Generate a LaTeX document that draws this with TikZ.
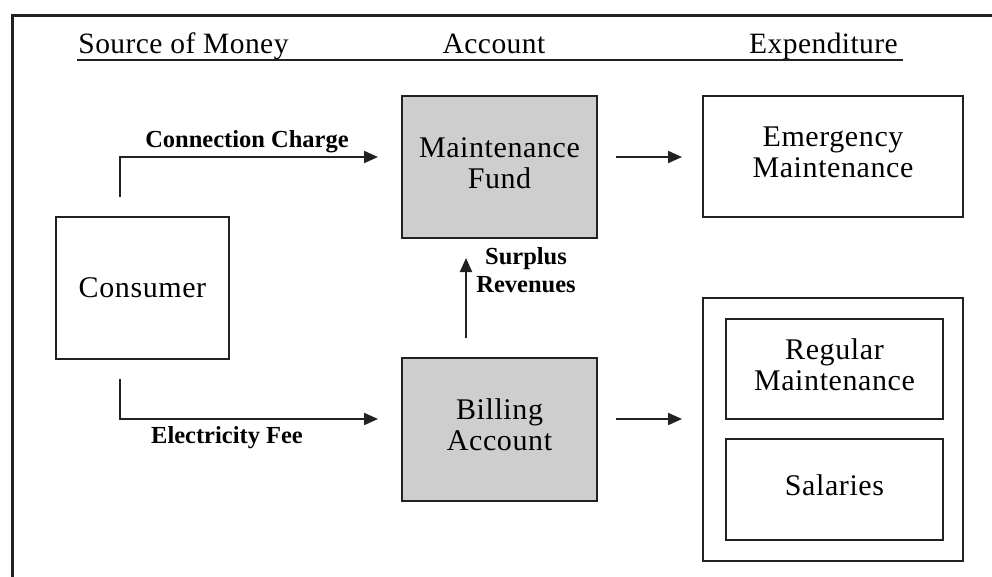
\documentclass[tikz,border=0pt]{standalone}
\usepackage{fontspec}
\setmainfont{Liberation Serif}
\newfontfamily\boxfont[LetterSpace=2]{Liberation Serif}
\newfontfamily\hdrfont[LetterSpace=1.5]{Liberation Serif}
\newfontfamily\lblfont{Liberation Serif}
\usetikzlibrary{arrows.meta}
\definecolor{fillgray}{RGB}{206,206,206}
\definecolor{ink}{RGB}{34,34,34}
\tikzset{
  box/.style={draw=ink, line width=1.6pt, rectangle, inner sep=0pt, outer sep=0pt},
  grayb/.style={box, fill=fillgray},
  boxtxt/.style={font=\boxfont\fontsize{30}{31}\selectfont, align=center, inner sep=0pt, text=black},
  lbl/.style={font=\lblfont\bfseries\fontsize{24.5}{28}\selectfont, align=center, inner sep=0pt, text=black},
  hdr/.style={font=\hdrfont\fontsize{29.5}{32}\selectfont, inner sep=0pt, anchor=base, text=black},
  arr/.style={draw=ink, line width=2pt, -{Triangle[length=14pt,width=12pt]}},
}
\begin{document}
\begin{tikzpicture}[x=1pt,y=-1pt]
\useasboundingbox (0,0) rectangle (992,576);
\clip (0,0) rectangle (992,576);
\fill[white] (0,0) rectangle (992,576);
% outer frame
\draw[ink, line width=3pt] (12,1000) -- (12,15) -- (1100,15);
% headers
\node[hdr] (h1) at (183.5,53) {Source of Money};
\node[hdr] (h2) at (494,53) {Account};
\node[hdr] (h3) at (823.5,53) {Expenditure};
\draw[ink, line width=2.6pt] (77,60) -- (903,60);
% boxes
\node[box, minimum width=173pt, minimum height=142pt] (cons) at (142.5,288) {};
\node[boxtxt] at (cons.center) {Consumer};
\node[grayb, minimum width=195pt, minimum height=142pt] (mf) at (499.5,167) {};
\node[boxtxt] at ([yshift=4pt]mf.center) {Maintenance\\Fund};
\node[grayb, minimum width=195pt, minimum height=143pt] (ba) at (499.5,429.5) {};
\node[boxtxt] at ([yshift=5pt]ba.center) {Billing\\Account};
\node[box, minimum width=260pt, minimum height=121pt] (em) at (833,156.5) {};
\node[boxtxt] at ([yshift=4pt]em.center) {Emergency\\Maintenance};
\node[box, minimum width=260pt, minimum height=263pt] (outer) at (833,429.5) {};
\node[box, minimum width=217pt, minimum height=100pt] (reg) at (834.5,369) {};
\node[boxtxt] at ([yshift=4.5pt]reg.center) {Regular\\Maintenance};
\node[box, minimum width=217pt, minimum height=101pt] (sal) at (834.5,489.5) {};
\node[boxtxt] at ([yshift=4.5pt]sal.center) {Salaries};
% connectors
\draw[arr, shorten <=20pt, shorten >=24pt] ([xshift=-22.5pt]cons.north) |- ([yshift=10pt]mf.west);
\draw[arr, shorten <=20pt, shorten >=24pt] ([xshift=-22.5pt]cons.south) |- ([yshift=10.5pt]ba.west);
\draw[arr, shorten <=20pt, shorten >=20pt] ([xshift=-33.5pt]ba.north) -- ([xshift=-33.5pt]mf.south);
\draw[arr, shorten <=19pt, shorten >=21pt] ([yshift=10pt]mf.east) -- ([yshift=10pt]mf.east -| em.west);
\draw[arr, shorten <=19pt, shorten >=21pt] ([yshift=10.5pt]ba.east) -- ([yshift=10.5pt]ba.east -| outer.west);
% labels
\node[lbl, anchor=base] (lcc) at (247,147) {Connection Charge};
\node[lbl, anchor=base] (lef) at (227,443) {Electricity Fee};
\node[lbl, anchor=base] (lsr) at (526,292) {Surplus\\Revenues};
\end{tikzpicture}
\end{document}
